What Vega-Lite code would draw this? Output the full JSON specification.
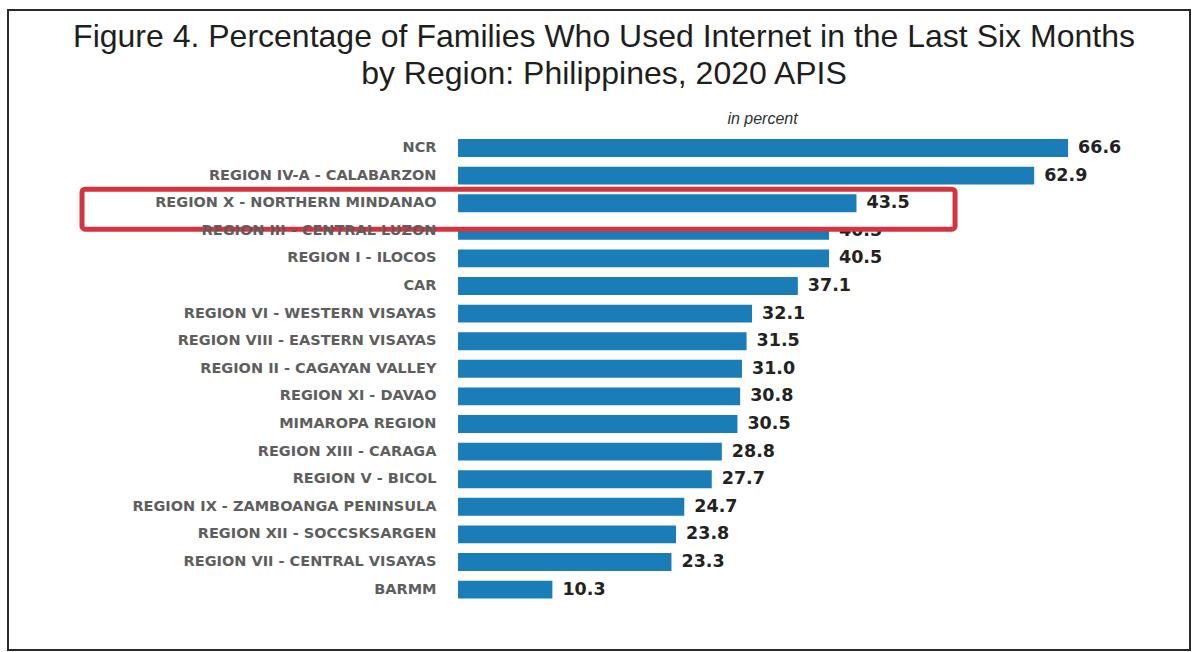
{
  "$schema": "https://vega.github.io/schema/vega-lite/v6.json",
  "autosize": "none",
  "width": 1182,
  "height": 640,
  "padding": {"left": 8, "top": 10, "right": 7, "bottom": 2},
  "background": "white",
  "config": {
    "view": {"stroke": "#2a2a2a", "strokeWidth": 2}
  },
  "title": {
    "text": ["Figure 4. Percentage of Families Who Used Internet in the Last Six Months", "by Region:  Philippines, 2020 APIS"],
    "font": "Liberation Sans",
    "fontSize": 32,
    "fontWeight": "normal",
    "color": "#1e1e1e",
    "anchor": "middle",
    "frame": "group",
    "lineHeight": 37,
    "offset": -81,
    "dx": 5
  },
  "data": {
    "values": [
      {"region": "NCR", "pct": 66.6},
      {"region": "REGION IV-A - CALABARZON", "pct": 62.9},
      {"region": "REGION X - NORTHERN MINDANAO", "pct": 43.5},
      {"region": "REGION III - CENTRAL LUZON", "pct": 40.5},
      {"region": "REGION I - ILOCOS", "pct": 40.5},
      {"region": "CAR", "pct": 37.1},
      {"region": "REGION VI - WESTERN VISAYAS", "pct": 32.1},
      {"region": "REGION VIII - EASTERN VISAYAS", "pct": 31.5},
      {"region": "REGION II - CAGAYAN VALLEY", "pct": 31.0},
      {"region": "REGION XI - DAVAO", "pct": 30.8},
      {"region": "MIMAROPA REGION", "pct": 30.5},
      {"region": "REGION XIII - CARAGA", "pct": 28.8},
      {"region": "REGION V - BICOL", "pct": 27.7},
      {"region": "REGION IX - ZAMBOANGA PENINSULA", "pct": 24.7},
      {"region": "REGION XII - SOCCSKSARGEN", "pct": 23.8},
      {"region": "REGION VII - CENTRAL VISAYAS", "pct": 23.3},
      {"region": "BARMM", "pct": 10.3}
    ]
  },
  "encoding": {
    "y": {
      "field": "region",
      "type": "nominal",
      "sort": null,
      "scale": {"paddingInner": 0.35, "paddingOuter": 0.175, "range": [124.2, 593.4]},
      "axis": {
        "orient": "left",
        "offset": -450,
        "zindex": 2,
        "title": null,
        "domain": false,
        "ticks": false,
        "labelPadding": 22,
        "labelFont": "DejaVu Sans",
        "labelFontSize": 14.5,
        "labelFontWeight": "bold",
        "labelColor": "#5e5e5e",
        "labelLimit": 500
      }
    }
  },
  "layer": [
    {
      "mark": {"type": "bar", "color": "#1b7db8"},
      "encoding": {
        "x": {
          "field": "pct",
          "type": "quantitative",
          "scale": {"domain": [-49.13, 79.91], "nice": false, "zero": false},
          "axis": {
            "orient": "top",
            "labels": false,
            "ticks": false,
            "domain": false,
            "grid": false,
            "title": "in percent",
            "titleX": 754,
            "titleY": 108,
            "titleBaseline": "middle",
            "titleFont": "Liberation Sans",
            "titleFontSize": 16,
            "titleFontStyle": "italic",
            "titleFontWeight": "normal",
            "titleColor": "#333333"
          }
        }
      }
    },
    {
      "mark": {"type": "text", "align": "left", "baseline": "middle", "dx": 10, "font": "DejaVu Sans", "fontSize": 17.5, "fontWeight": "bold", "color": "#222222"},
      "encoding": {
        "x": {"field": "pct", "type": "quantitative"},
        "text": {"field": "pct", "type": "quantitative", "format": ".1f"}
      }
    },
    {
      "transform": [{"filter": "datum.region === 'REGION X - NORTHERN MINDANAO'"}],
      "mark": {"type": "bar", "height": {"band": 2.23}, "yOffset": 6, "fill": "white", "stroke": "#d4343f", "strokeWidth": 5, "cornerRadius": 3},
      "encoding": {
        "x": {"datum": -41.05, "type": "quantitative"},
        "x2": {"datum": 54.26}
      }
    },
    {
      "transform": [{"filter": "datum.region === 'REGION X - NORTHERN MINDANAO'"}],
      "mark": {"type": "bar", "color": "#1b7db8"},
      "encoding": {
        "x": {"field": "pct", "type": "quantitative"}
      }
    },
    {
      "transform": [{"filter": "datum.region === 'REGION X - NORTHERN MINDANAO'"}],
      "mark": {"type": "text", "align": "left", "baseline": "middle", "dx": 10, "font": "DejaVu Sans", "fontSize": 17.5, "fontWeight": "bold", "color": "#222222"},
      "encoding": {
        "x": {"field": "pct", "type": "quantitative"},
        "text": {"field": "pct", "type": "quantitative", "format": ".1f"}
      }
    }
  ]
}
